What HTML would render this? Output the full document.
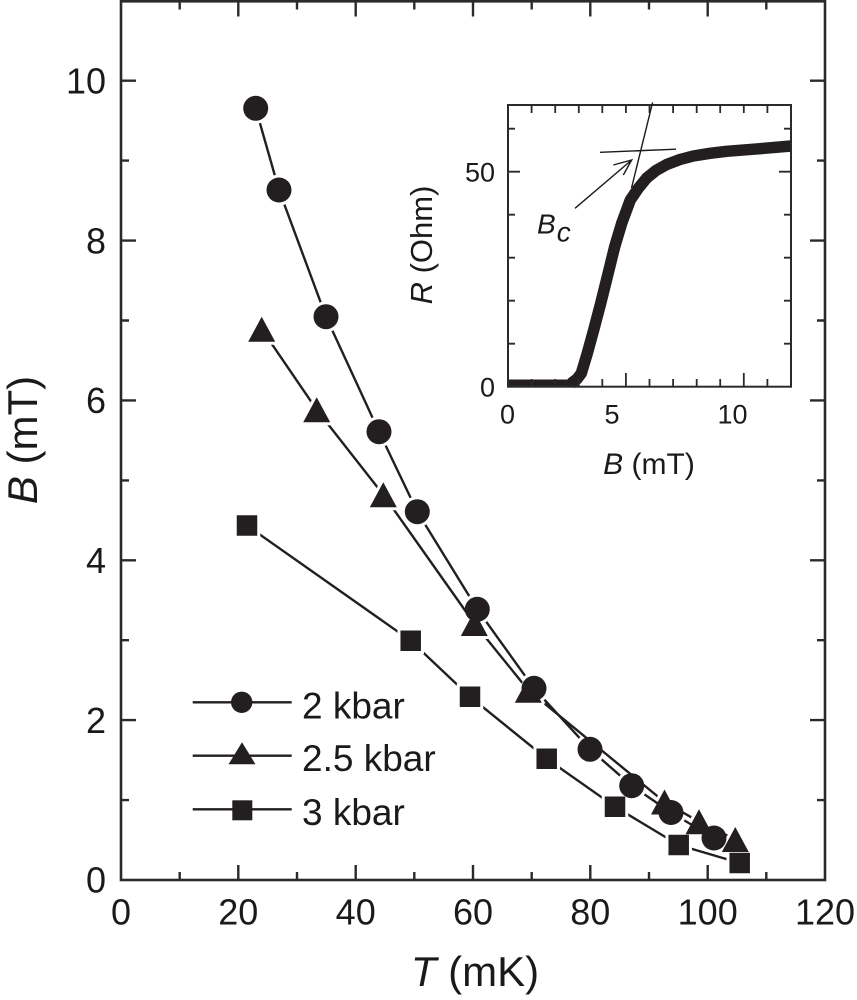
<!DOCTYPE html>
<html>
<head>
<meta charset="utf-8">
<style>
html, body { margin: 0; padding: 0; background: #ffffff; }
svg { display: block; }
text { font-family: "Liberation Sans", "DejaVu Sans", sans-serif; fill: #1a1a1a; }
</style>
</head>
<body>
<svg width="857" height="1000" viewBox="0 0 857 1000" xmlns="http://www.w3.org/2000/svg" xmlns:xlink="http://www.w3.org/1999/xlink">
<defs>
<g id="circ">
<circle cx="255.7" cy="108.3" r="12.5"/><circle cx="279" cy="190" r="12.5"/><circle cx="326" cy="316.7" r="12.5"/><circle cx="379" cy="431.7" r="12.5"/><circle cx="417.3" cy="511.7" r="12.5"/><circle cx="477.3" cy="609.3" r="12.5"/><circle cx="534" cy="688.3" r="12.5"/><circle cx="590" cy="749.3" r="12.5"/><circle cx="631.7" cy="785.7" r="12.5"/><circle cx="671" cy="812.5" r="12.5"/><circle cx="714" cy="838" r="12.5"/>
</g>
<path id="tri" d="M261.7,316.7L248.2,341.7H275.2Z M316.7,397.2L303.2,422.2H330.2Z M383.3,482.2L369.8,507.2H396.8Z M474.3,611L460.8,636H487.8Z M528.3,677.7L514.8,702.7H541.8Z M664.5,789.5L651,814.5H678Z M699,809.2L685.5,834.2H712.5Z M735.3,827L721.8,852H748.8Z"/>
<path id="sq" d="M236.75,515.25h20.5v20.5h-20.5Z M400.45,630.45h20.5v20.5h-20.5Z M459.75,686.45h20.5v20.5h-20.5Z M536.45,748.45h20.5v20.5h-20.5Z M604.75,796.45h20.5v20.5h-20.5Z M668.45,834.75h20.5v20.5h-20.5Z M729.45,852.75h20.5v20.5h-20.5Z"/>
<mask id="mCirc" maskUnits="userSpaceOnUse" x="0" y="0" width="857" height="1000">
<rect width="857" height="1000" fill="#fff"/>
<use xlink:href="#circ" href="#circ" fill="#000" stroke="#000" stroke-width="6"/>
</mask>
<mask id="mTri" maskUnits="userSpaceOnUse" x="0" y="0" width="857" height="1000">
<rect width="857" height="1000" fill="#fff"/>
<use xlink:href="#tri" href="#tri" fill="#000" stroke="#000" stroke-width="6" stroke-linejoin="round"/>
</mask>
<mask id="mSq" maskUnits="userSpaceOnUse" x="0" y="0" width="857" height="1000">
<rect width="857" height="1000" fill="#fff"/>
<use xlink:href="#sq" href="#sq" fill="#000" stroke="#000" stroke-width="6"/>
</mask>
</defs>

<rect width="857" height="1000" fill="#ffffff"/>

<!-- main frame and ticks -->
<rect x="121" y="1.3" width="704" height="878.7" fill="none" stroke="#2a2a2a" stroke-width="2.6"/>
<path fill="none" stroke="#2a2a2a" stroke-width="2.4" d="
M238.3,880v-15 M355.7,880v-15 M473,880v-15 M590.3,880v-15 M707.7,880v-15
M179.7,880v-8 M297,880v-8 M414.3,880v-8 M531.7,880v-8 M649,880v-8 M766.3,880v-8
M238.3,1.3v15.2 M355.7,1.3v15.2 M473,1.3v15.2 M590.3,1.3v15.2 M707.7,1.3v15.2
M179.7,1.3v8.2 M297,1.3v8.2 M414.3,1.3v8.2 M531.7,1.3v8.2 M649,1.3v8.2 M766.3,1.3v8.2
M121,720.1h15 M121,560.3h15 M121,400.4h15 M121,240.6h15 M121,80.7h15
M121,800.1h8 M121,640.2h8 M121,480.4h8 M121,320.5h8 M121,160.6h8
M825,720.1h-15 M825,560.3h-15 M825,400.4h-15 M825,240.6h-15 M825,80.7h-15
M825,800.1h-8 M825,640.2h-8 M825,480.4h-8 M825,320.5h-8 M825,160.6h-8"/>

<g font-size="36" text-anchor="end">
<text x="106" y="892.7">0</text><text x="106" y="732.8">2</text><text x="106" y="572.9">4</text><text x="106" y="413.1">6</text><text x="106" y="253.3">8</text><text x="106" y="93.4">10</text>
</g>
<g font-size="36" text-anchor="middle">
<text x="121" y="924.3">0</text><text x="238.3" y="924.3">20</text><text x="355.7" y="924.3">40</text><text x="473" y="924.3">60</text><text x="590.3" y="924.3">80</text><text x="707.7" y="924.3">100</text><text x="825" y="924.3">120</text>
</g>

<text x="475" y="986" font-size="42" text-anchor="middle"><tspan font-style="italic">T</tspan> (mK)</text>
<text transform="translate(37,440) rotate(-90)" font-size="42" text-anchor="middle"><tspan font-style="italic">B</tspan> (mT)</text>

<!-- data lines -->
<g fill="none" stroke="#231f20" stroke-width="2.4" stroke-linejoin="round">
<polyline mask="url(#mCirc)" points="255.7,108.3 279,190 326,316.7 379,431.7 417.3,511.7 477.3,609.3 534,688.3 590,749.3 631.7,785.7 671,812.5 714,838"/>
<polyline mask="url(#mTri)" points="261.7,329.2 316.7,409.7 383.3,494.7 474.3,623.5 528.3,690.2 664.5,802 699,821.7 735.3,839.5"/>
<polyline mask="url(#mSq)" points="247,525.5 410.7,640.7 470,696.7 546.7,758.7 615,806.7 678.7,845 739.7,863"/>
</g>

<!-- markers -->
<use xlink:href="#sq" href="#sq" fill="#231f20"/>
<use xlink:href="#tri" href="#tri" fill="#231f20"/>
<use xlink:href="#circ" href="#circ" fill="#231f20"/>

<!-- legend -->
<path stroke="#231f20" stroke-width="2.4" d="M192.7,702.3H291.7 M192.7,755.7H291.7 M192.7,809.3H291.7"/>
<circle cx="241.7" cy="702.3" r="10.7" fill="#231f20"/>
<path d="M242,742.3L228.5,764.3H255.5Z" fill="#231f20"/>
<rect x="232.3" y="800.3" width="20" height="20" fill="#231f20"/>
<g font-size="37">
<text x="302" y="718.3">2 kbar</text>
<text x="302" y="771">2.5 kbar</text>
<text x="302" y="825">3 kbar</text>
</g>

<!-- inset curve -->
<g fill="none" stroke="#231f20">
<path d="M508,383.5H574" stroke-width="8"/>
<polyline stroke-width="11.5" stroke-linejoin="round" points="571,383.5 577,379 581.3,373.3 587.3,353.3 593.7,330 600.7,303.3 607.3,276.7 614.7,246.7 621.7,223.3 630.3,200 638.3,188.3 646.7,178 656,170.5 666.7,164.5 680,159.5 693.3,156 710,153.3 726.7,151.3 760,148.7 791,146"/>
</g>

<!-- inset frame and ticks -->
<rect x="508" y="105" width="283" height="281.7" fill="none" stroke="#2a2a2a" stroke-width="2"/>
<path fill="none" stroke="#2a2a2a" stroke-width="1.8" d="
M531.6,386.7v-7.7 M555.2,386.7v-7.7 M578.8,386.7v-7.7 M602.3,386.7v-7.7 M625.9,386.7v-13.7 M649.5,386.7v-7.7 M673.1,386.7v-7.7 M696.7,386.7v-7.7 M720.2,386.7v-7.7 M743.8,386.7v-13.7 M767.4,386.7v-7.7
M531.6,105v8 M555.2,105v8 M578.8,105v8 M602.3,105v8 M625.9,105v8 M649.5,105v8 M673.1,105v8 M696.7,105v8 M720.2,105v8 M743.8,105v8 M767.4,105v8
M508,343.7h7 M508,300.7h7 M508,257.7h7 M508,214.7h7 M508,171.7h12 M508,128.7h7
M791,343.7h-7 M791,300.7h-7 M791,257.7h-7 M791,214.7h-7 M791,171.7h-12 M791,128.7h-7"/>

<!-- tangents and arrow -->
<path fill="none" stroke="#1a1a1a" stroke-width="1.4" d="M600,152.3L676,149.2 M652.6,102.5L631.5,188 M575,208.3L631.7,160 M613.3,165L631.7,160L623.3,175"/>

<!-- inset labels -->
<g font-size="27">
<text x="495" y="181.4" text-anchor="end">50</text>
<text x="495" y="396.5" text-anchor="end">0</text>
<text x="507.5" y="423.3" text-anchor="middle">0</text>
<text x="612" y="423.3" text-anchor="middle">5</text>
<text x="732.5" y="423.3" text-anchor="middle">10</text>
</g>
<text x="649" y="474" font-size="30" text-anchor="middle"><tspan font-style="italic">B</tspan> (mT)</text>
<text transform="translate(432,245) rotate(-90)" font-size="31" text-anchor="middle"><tspan font-style="italic">R</tspan> (Ohm)</text>
<text x="537" y="233.3" font-size="28" font-style="italic">B<tspan dy="8.4" dx="1">c</tspan></text>
</svg>
</body>
</html>
